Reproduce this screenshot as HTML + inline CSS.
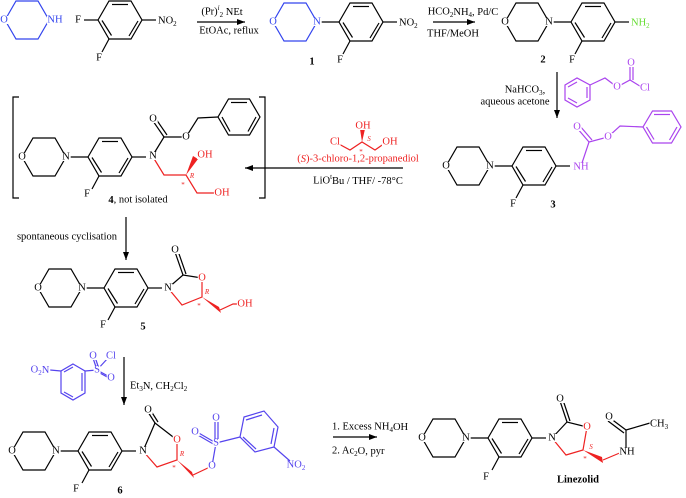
<!DOCTYPE html>
<html><head><meta charset="utf-8"><style>
html,body{margin:0;padding:0;background:#fff}
svg{display:block}
text{font-family:"Liberation Serif","Times New Roman",serif;font-size:10.5px;text-anchor:middle;dominant-baseline:central}
.s{text-anchor:start}
.b{font-weight:bold}
.sm{font-size:7px}
line,polyline,polygon.r{stroke-width:1.2;fill:none}
</style></head><body>
<svg id="sv" width="686" height="498" viewBox="0 0 686 498" xmlns="http://www.w3.org/2000/svg">
<defs>
<g id="mo" stroke="currentColor" fill="none" stroke-width="1.2">
<polygon points="0,0 11,-19 33,-19 44,0 33,19 11,19"/>
</g>
<g id="ph" stroke="#000" fill="none" stroke-width="1.2">
<line x1="44" y1="0" x2="66" y2="0"/>
<polygon points="66,0 77,-19 99,-19 110,0 99,19 77,19"/>
<line x1="80" y1="-15.5" x2="96" y2="-15.5"/>
<line x1="106" y1="1" x2="97" y2="16"/>
<line x1="79.5" y1="15.5" x2="70" y2="0.5"/>
<line x1="77" y1="19" x2="70" y2="32"/>
<line x1="110" y1="0" x2="124" y2="0"/>
</g>
<marker id="ah" markerWidth="8" markerHeight="6" refX="8" refY="3" orient="auto" markerUnits="userSpaceOnUse"><path d="M0,0L8,3L0,6z" fill="#000"/></marker>
</defs>

<!-- top reactants -->
<g stroke="#3344ee" fill="none" stroke-width="1.2"><polygon points="5,20 16,1 38,1 49,20 38,39 16,39"/></g>
<text x="4" y="20" fill="#3344ee">O</text><text x="55" y="20" fill="#3344ee">NH</text>
<g stroke="#000" fill="none" stroke-width="1.2">
<polygon points="98,20 109,1 131,1 142,20 131,39 109,39"/>
<line x1="112" y1="4.5" x2="128" y2="4.5"/><line x1="138" y1="21" x2="129" y2="36"/><line x1="111.5" y1="35.5" x2="102" y2="20.5"/>
<line x1="84" y1="20" x2="98" y2="20"/><line x1="109" y1="39" x2="102" y2="52"/><line x1="142" y1="20" x2="156" y2="20"/>
</g>
<text x="78" y="20">F</text><text x="99" y="58">F</text><text x="158" y="21" class="s">NO<tspan class="sm" dy="3">2</tspan></text>

<!-- arrow 1 -->
<line x1="197" y1="22" x2="245" y2="22" stroke="#000" marker-end="url(#ah)"/>
<text x="222" y="12" class="n">(Pr)<tspan class="sm" dy="-4" font-style="italic">i</tspan><tspan class="sm" dy="7">2</tspan><tspan dy="-3"> NEt</tspan></text>
<text x="229" y="31" class="n">EtOAc, reflux</text>

<!-- compound 1 -->
<use href="#mo" x="273" y="22" style="color:#3344ee"/><use href="#ph" x="273" y="22"/>
<text x="273" y="22" fill="#3344ee">O</text><text x="317" y="22" fill="#3344ee">N</text>
<text x="340" y="60">F</text><text x="399" y="23" class="s">NO<tspan class="sm" dy="3">2</tspan></text>
<text x="312" y="62" class="b n">1</text>

<!-- arrow 2 -->
<line x1="433" y1="22" x2="475" y2="22" stroke="#000" marker-end="url(#ah)"/>
<text x="463" y="12" class="n">HCO<tspan class="sm" dy="3">2</tspan><tspan dy="-3">NH</tspan><tspan class="sm" dy="3">4</tspan><tspan dy="-3">, Pd/C</tspan></text>
<text x="453" y="34" class="n">THF/MeOH</text>

<!-- compound 2 -->
<use href="#mo" x="505" y="22"/><use href="#ph" x="505" y="22"/>
<text x="505" y="22">O</text><text x="549" y="22">N</text>
<text x="572" y="60">F</text><text x="631" y="23" class="s" fill="#66dd33">NH<tspan class="sm" dy="3">2</tspan></text>
<text x="543" y="60" class="b n">2</text>

<!-- arrow 3 -->
<line x1="557" y1="72" x2="557" y2="118" stroke="#000" marker-end="url(#ah)"/>
<text x="525" y="90" class="n">NaHCO<tspan class="sm" dy="3">3</tspan><tspan dy="-3">,</tspan></text>
<text x="515" y="102" class="n">aqueous acetone</text>
<g stroke="#aa44ee" fill="none" stroke-width="1.2">
<polygon points="565,85 577,78 590,85 590,100 577,107 565,100"/>
<line x1="568" y1="87" x2="577" y2="82"/><line x1="587" y1="87" x2="587" y2="98"/><line x1="568" y1="98" x2="577" y2="103"/>
<polyline points="590,85 605,78 617,87 630,80 643,88"/>
<line x1="630" y1="80" x2="630" y2="64"/><line x1="633" y1="80" x2="633" y2="64"/>
</g>
<text x="617" y="87" fill="#aa44ee">O</text><text x="631" y="63" fill="#aa44ee">O</text><text x="645" y="88" fill="#aa44ee">Cl</text>

<!-- compound 3 -->
<use href="#mo" x="446" y="166"/><use href="#ph" x="446" y="166"/>
<text x="446" y="166">O</text><text x="490" y="166">N</text>
<text x="513" y="204">F</text><text x="553" y="205" class="b n">3</text>
<g stroke="#aa44ee" fill="none" stroke-width="1.2">
<polyline points="581,166 589,142 608,137 620,126 643,127"/>
<line x1="589" y1="142" x2="577" y2="128"/><line x1="592" y1="140" x2="580" y2="126"/>
<polygon points="681,127 671.5,143 652.5,143 643,127 652.5,111 671.5,111"/>
<line x1="654" y1="114.5" x2="670" y2="114.5"/><line x1="677" y1="127" x2="669.5" y2="140"/><line x1="654" y1="139.5" x2="646.5" y2="127"/>
</g>
<text x="581" y="167" fill="#aa44ee">NH</text><text x="608" y="137" fill="#aa44ee">O</text><text x="577" y="127" fill="#aa44ee">O</text>

<!-- arrow 4 -->
<line x1="403" y1="168" x2="245" y2="168" stroke="#000" marker-end="url(#ah)"/>
<text x="358" y="159" fill="#ee2222" class="n">(<tspan font-style="italic">S</tspan>)-3-chloro-1,2-propanediol</text>
<text x="358" y="181" class="n">LiO<tspan class="sm" dy="-4">t</tspan><tspan dy="4">Bu /  THF/  -78°C</tspan></text>
<g stroke="#ee2222" fill="none" stroke-width="1.2"><polyline points="337,143 350,150 362,142 375,150 385,143"/></g>
<polygon points="362,142 360,129 365,129" fill="#ee2222"/>
<text x="335" y="142" fill="#ee2222">Cl</text><text x="363" y="126" fill="#ee2222">OH</text><text x="390" y="142" fill="#ee2222">OH</text>
<text x="369" y="139" fill="#ee2222" class="sm n" font-style="italic">S</text><text x="361" y="152" fill="#ee2222" class="sm n">*</text>

<!-- compound 4 -->
<g stroke="#000" fill="none" stroke-width="1.2">
<polyline points="19,97 13,97 13,198 19,198"/><polyline points="259,97 265,97 265,198 259,198"/>
</g>
<use href="#mo" x="22" y="157"/><use href="#ph" x="22" y="157"/>
<text x="22" y="157">O</text><text x="66" y="157">N</text><text x="87" y="194">F</text>
<g stroke="#000" fill="none" stroke-width="1.2">
<polyline points="153,155 164,137 186,137 198,118 218,117"/>
<line x1="164" y1="137" x2="153" y2="121"/><line x1="167" y1="135" x2="156" y2="119"/>
<polygon points="260,117 249.5,135 228.5,135 218,117 228.5,99 249.5,99"/>
<line x1="231" y1="102.5" x2="247" y2="102.5"/><line x1="256" y1="117" x2="248" y2="131.5"/><line x1="230" y1="131.5" x2="222" y2="117"/>
</g>
<g stroke="#ee2222" fill="none" stroke-width="1.2"><polyline points="153,157 164,175 186,175 197,193 214,193"/></g>
<polygon points="186,175 193,156 198,159" fill="#ee2222"/>
<text x="153" y="156">N</text><text x="153" y="119">O</text><text x="186" y="137">O</text>
<text x="205" y="155" fill="#ee2222">OH</text><text x="222" y="193" fill="#ee2222">OH</text>
<text x="192" y="176" fill="#ee2222" class="sm n" font-style="italic">R</text><text x="183" y="185" fill="#ee2222" class="sm n">*</text>
<text x="138" y="200" class="n"><tspan class="b">4</tspan>, not isolated</text>

<!-- arrow 5 -->
<line x1="126" y1="217" x2="126" y2="260" stroke="#000" marker-end="url(#ah)"/>
<text x="117" y="237" class="n" style="text-anchor:end">spontaneous cyclisation</text>

<!-- compound 5 -->
<use href="#mo" x="38" y="288"/><use href="#ph" x="38" y="288"/>
<text x="38" y="288">O</text><text x="82" y="288">N</text><text x="103" y="325">F</text><text x="143" y="327" class="b n">5</text>
<g stroke="#000" fill="none" stroke-width="1.2">
<polyline points="168,288 183,275 202,278"/><line x1="183" y1="275" x2="175" y2="252"/><line x1="186" y1="274" x2="178" y2="251"/>
</g>
<g stroke="#ee2222" fill="none" stroke-width="1.2"><polyline points="202,278 202,297 182,305 168,288"/><polyline points="220,310 233,304 240,304"/></g>
<polygon points="202,297 219,307 221,313" fill="#ee2222"/>
<text x="168" y="288">N</text><text x="175" y="250">O</text><text x="202" y="278" fill="#ee2222">O</text>
<text x="245" y="304" fill="#ee2222">OH</text>
<text x="207" y="292" fill="#ee2222" class="sm n" font-style="italic">R</text><text x="199" y="306" fill="#ee2222" class="sm n">*</text>

<!-- arrow 6 -->
<line x1="124" y1="357" x2="124" y2="405" stroke="#000" marker-end="url(#ah)"/>
<text x="130" y="386" class="s n">Et<tspan class="sm" dy="3">3</tspan><tspan dy="-3">N, CH</tspan><tspan class="sm" dy="3">2</tspan><tspan dy="-3">Cl</tspan><tspan class="sm" dy="3">2</tspan></text>
<g stroke="#5544ee" fill="none" stroke-width="1.2">
<polygon points="73,364 85,371 85,393 73,400 61,393 61,371"/>
<line x1="82" y1="373" x2="82" y2="391"/><line x1="64" y1="392" x2="73" y2="397"/><line x1="64" y1="372" x2="73" y2="367"/>
<line x1="61" y1="371" x2="50" y2="370"/><line x1="85" y1="371" x2="97" y2="370"/>
<line x1="97" y1="370" x2="93" y2="358"/><line x1="99" y1="369" x2="95" y2="357"/>
<line x1="97" y1="370" x2="108" y2="376"/><line x1="98" y1="372" x2="109" y2="378"/><line x1="97" y1="370" x2="108" y2="358"/>
</g>
<text x="40" y="370" fill="#5544ee">O<tspan class="sm" dy="3">2</tspan><tspan dy="-3">N</tspan></text>
<text x="97" y="370" fill="#5544ee">S</text><text x="93" y="356" fill="#5544ee">O</text><text x="111" y="356" fill="#5544ee">Cl</text><text x="111" y="378" fill="#5544ee">O</text>

<!-- compound 6 -->
<use href="#mo" x="12" y="451"/><use href="#ph" x="12" y="451"/>
<text x="12" y="451">O</text><text x="56" y="451">N</text><text x="76" y="489">F</text><text x="120" y="491" class="b n">6</text>
<g stroke="#000" fill="none" stroke-width="1.2">
<polyline points="143,451 155,423 177,440"/><line x1="155" y1="423" x2="148" y2="412"/><line x1="158" y1="422" x2="151" y2="411"/>
</g>
<g stroke="#ee2222" fill="none" stroke-width="1.2"><polyline points="177,440 177,460 157,467 143,451"/><line x1="193" y1="475" x2="212" y2="466"/></g>
<polygon points="177,460 192,472 194,478" fill="#ee2222"/>
<g stroke="#5544ee" fill="none" stroke-width="1.2">
<line x1="212" y1="466" x2="216" y2="443"/><line x1="216" y1="443" x2="240" y2="437"/>
<line x1="215" y1="443" x2="215" y2="419"/><line x1="218" y1="443" x2="218" y2="419"/>
<line x1="216" y1="443" x2="197" y2="432"/><line x1="215" y1="445" x2="196" y2="434"/>
<polygon points="240,437 244,417 264,411 278,427 274,447 255,452"/>
<line x1="246" y1="420" x2="262" y2="415"/><line x1="274" y1="428" x2="271" y2="444"/><line x1="243" y1="437" x2="256" y2="449"/>
<line x1="274" y1="447" x2="290" y2="461"/>
</g>
<text x="143" y="451">N</text><text x="148" y="410">O</text><text x="177" y="440" fill="#ee2222">O</text>
<text x="216" y="443" fill="#5544ee">S</text><text x="216" y="418" fill="#5544ee">O</text><text x="195" y="432" fill="#5544ee">O</text><text x="212" y="466" fill="#5544ee">O</text>
<text x="296" y="465" fill="#5544ee">NO<tspan class="sm" dy="3">2</tspan></text>
<text x="182" y="454" fill="#ee2222" class="sm n" font-style="italic">R</text><text x="174" y="468" fill="#ee2222" class="sm n">*</text>

<!-- arrow 7 -->
<line x1="333" y1="437" x2="377" y2="437" stroke="#000" marker-end="url(#ah)"/>
<text x="332" y="427" class="s n">1. Excess NH<tspan class="sm" dy="3">4</tspan><tspan dy="-3">OH</tspan></text>
<text x="332" y="451" class="s n">2. Ac<tspan class="sm" dy="3">2</tspan><tspan dy="-3">O, pyr</tspan></text>

<!-- linezolid -->
<use href="#mo" x="422" y="438"/><use href="#ph" x="422" y="438"/>
<text x="422" y="438">O</text><text x="466" y="438">N</text><text x="486" y="477">F</text>
<g stroke="#000" fill="none" stroke-width="1.2">
<polyline points="552,438 567,422 587,427"/><line x1="567" y1="422" x2="560" y2="401"/><line x1="570" y1="421" x2="563" y2="400"/>
<polyline points="626,452 626,430 650,423"/><line x1="626" y1="430" x2="610" y2="418"/><line x1="624" y1="433" x2="608" y2="421"/>
</g>
<g stroke="#ee2222" fill="none" stroke-width="1.2"><polyline points="587,427 583,450 566,455 552,438"/><line x1="603" y1="460" x2="622" y2="452"/></g>
<polygon points="583,450 602,457 603,463" fill="#ee2222"/>
<text x="552" y="438">N</text><text x="560" y="399">O</text><text x="587" y="427" fill="#ee2222">O</text>
<text x="627" y="452">NH</text><text x="609" y="417">O</text><text x="650" y="424" class="s">CH<tspan class="sm" dy="3">3</tspan></text>
<text x="591" y="447" fill="#ee2222" class="sm n" font-style="italic">S</text><text x="585" y="459" fill="#ee2222" class="sm n">*</text>
<text x="578" y="480" class="b n">Linezolid</text>
</svg>
<script>
(function(){
var ns="http://www.w3.org/2000/svg";
var ts=document.querySelectorAll("#sv text");
for(var i=0;i<ts.length;i++){
 var t=ts[i]; if(t.classList.contains("n")) continue;
 var b=t.getBBox();
 var r=document.createElementNS(ns,"rect");
 r.setAttribute("x",b.x-0.5);r.setAttribute("y",b.y+1.5);
 r.setAttribute("width",b.width+1);r.setAttribute("height",Math.max(0,b.height-3));
 r.setAttribute("fill","#fff");
 t.parentNode.insertBefore(r,t);
}
})();
</script>
</body></html>
